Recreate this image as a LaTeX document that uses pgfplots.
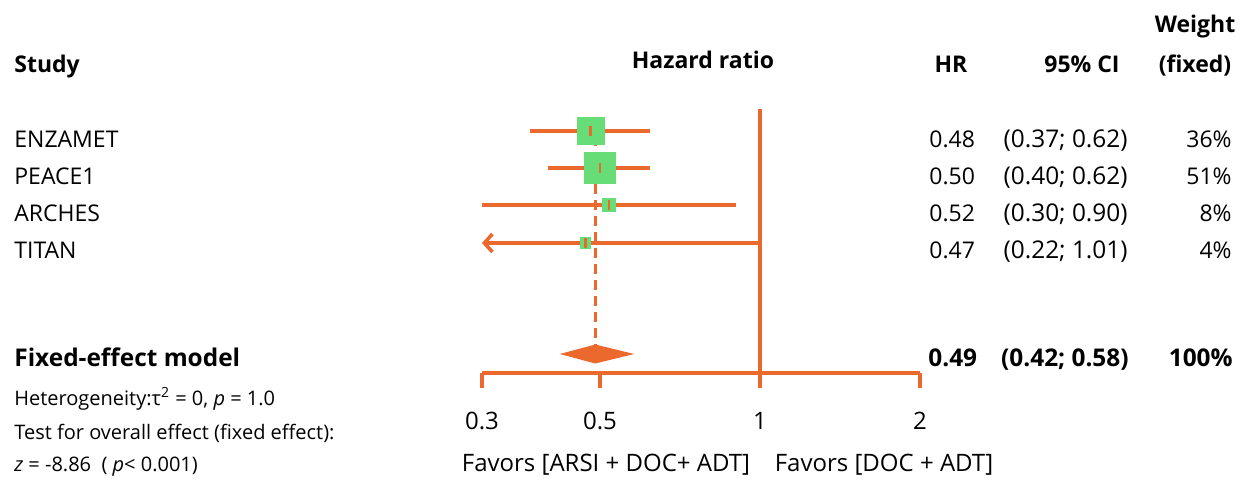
\documentclass[border=0pt]{standalone}
\usepackage{fontspec}
\setmainfont{Open Sans}
\usepackage{pgfplots}
\pgfplotsset{compat=1.18}
\usetikzlibrary{arrows.meta}
\definecolor{forange}{RGB}{236,105,45}
\definecolor{fgreen}{RGB}{102,221,119}
\newcommand{\rf}{\fontsize{11.5pt}{13pt}\selectfont}
\newcommand{\bfnt}{\fontsize{11.5pt}{13pt}\selectfont\bfseries}
\newcommand{\bfbig}{\fontsize{12.2pt}{14pt}\selectfont\bfseries}
\newcommand{\sm}{\fontsize{10pt}{12pt}\selectfont}
\begin{document}
\begin{tikzpicture}
\path[use as bounding box] (0,0) rectangle (621.5pt,-239pt);
\begin{axis}[
  at={(241pt,-186.5pt)}, anchor=south west,
  scale only axis, width=219pt, height=136.5pt,
  xmode=log, xmin=0.3, xmax=2, ymin=-373, ymax=-100,
  axis x line*=bottom, axis y line=none,
  x axis line style={forange, line width=1.6pt, -},
  xtick={0.3,0.5,1,2}, xticklabels={0.3,0.5,1,2}, minor xtick={},
  ytick=\empty,
  tick align=outside, major tick length=7.5pt,
  every tick/.style={forange, line width=1.6pt},
  xticklabel style={font=\fontsize{12pt}{14pt}\selectfont, yshift=-8.5pt},
  clip=false,
]
% reference line at 1
\addplot[forange, line width=1.6pt] coordinates {(1,-109) (1,-373)};
% dashed line at pooled estimate
\addplot[forange, line width=1.6pt, dash pattern=on 5pt off 3pt] coordinates {(0.49,-120) (0.49,-345)};
% squares (size by weight)
\addplot[only marks, mark=square*, mark size=6.75pt, mark options={fill=fgreen, draw=fgreen}] coordinates {(0.48,-131)};
\addplot[only marks, mark=square*, mark size=7.75pt, mark options={fill=fgreen, draw=fgreen}] coordinates {(0.50,-168)};
\addplot[only marks, mark=square*, mark size=3.25pt, mark options={fill=fgreen, draw=fgreen}] coordinates {(0.52,-205)};
\addplot[only marks, mark=square*, mark size=2.6pt, mark options={fill=fgreen, draw=fgreen}] coordinates {(0.47,-243)};
% confidence intervals
\addplot[forange, line width=1.8pt] coordinates {(0.37,-131) (0.62,-131)};
\addplot[forange, line width=1.8pt] coordinates {(0.40,-168) (0.62,-168)};
\addplot[forange, line width=1.8pt] coordinates {(0.30,-205) (0.90,-205)};
\addplot[forange, line width=1.8pt, {Straight Barb[length=4pt,width=9pt]}-] coordinates {(0.30,-243) (1.01,-243)};
% point estimates
\addplot[only marks, mark=|, mark size=2.6pt, mark options={forange, line width=1.4pt}] coordinates {(0.48,-131) (0.50,-168) (0.52,-205) (0.47,-243)};
% pooled diamond
\addplot[fill=forange, draw=none] coordinates {(0.42,-354) (0.49,-344.5) (0.58,-354) (0.49,-363.5)} -- cycle;
\end{axis}
\begin{scope}[x=0.5pt, y=-0.5pt, every node/.style={inner sep=0pt, font=\rf}]
\node[anchor=base west, font=\bfnt] at (14,72) {Study};
\node[anchor=base, font=\bfnt] at (703,68) {Hazard ratio};
\node[anchor=base, font=\bfnt] at (951,72) {HR};
\node[anchor=base, font=\bfnt] at (1082,72) {95\% CI};
\node[anchor=base, font=\bfnt] at (1195,32) {Weight};
\node[anchor=base, font=\bfnt] at (1195,72) {(fixed)};
% rows
\foreach \n/\b/\hr/\ci/\w in {ENZAMET/147/0.48/{(0.37; 0.62)}/36\%, PEACE1/184/0.50/{(0.40; 0.62)}/51\%, ARCHES/221/0.52/{(0.30; 0.90)}/8\%, TITAN/258/0.47/{(0.22; 1.01)}/4\%}{
  \node[anchor=base west] at (14,\b) {\n};
  \node[anchor=base west] at (929,\b) {\hr};
  \node[anchor=base east, font=\fontsize{12.2pt}{14pt}\selectfont] at (1128,\b) {\ci};
  \node[anchor=base east] at (1232,\b) {\w};
}
\node[anchor=base west, font=\bfbig] at (14,366) {Fixed-effect model};
\node[anchor=base west, font=\bfbig] at (928,366) {0.49};
\node[anchor=base east, font=\bfbig] at (1129,366) {(0.42; 0.58)};
\node[anchor=base east, font=\bfbig] at (1233,366) {100\%};
\node[anchor=base west, font=\sm] at (14,405) {Heterogeneity:τ\textsuperscript{2} = 0, \textit{p} = 1.0};
\node[anchor=base west, font=\sm] at (14,439) {Test for overall effect (fixed effect):};
\node[anchor=base west, font=\sm] at (14,471) {\textit{z} = -8.86~~( \textit{p}< 0.001)};
\node[anchor=base, font=\fontsize{12pt}{14pt}\selectfont] at (606,471) {Favors [ARSI + DOC+ ADT]};
\node[anchor=base, font=\fontsize{12pt}{14pt}\selectfont] at (884,471) {Favors [DOC + ADT]};
\end{scope}
\end{tikzpicture}
\end{document}
